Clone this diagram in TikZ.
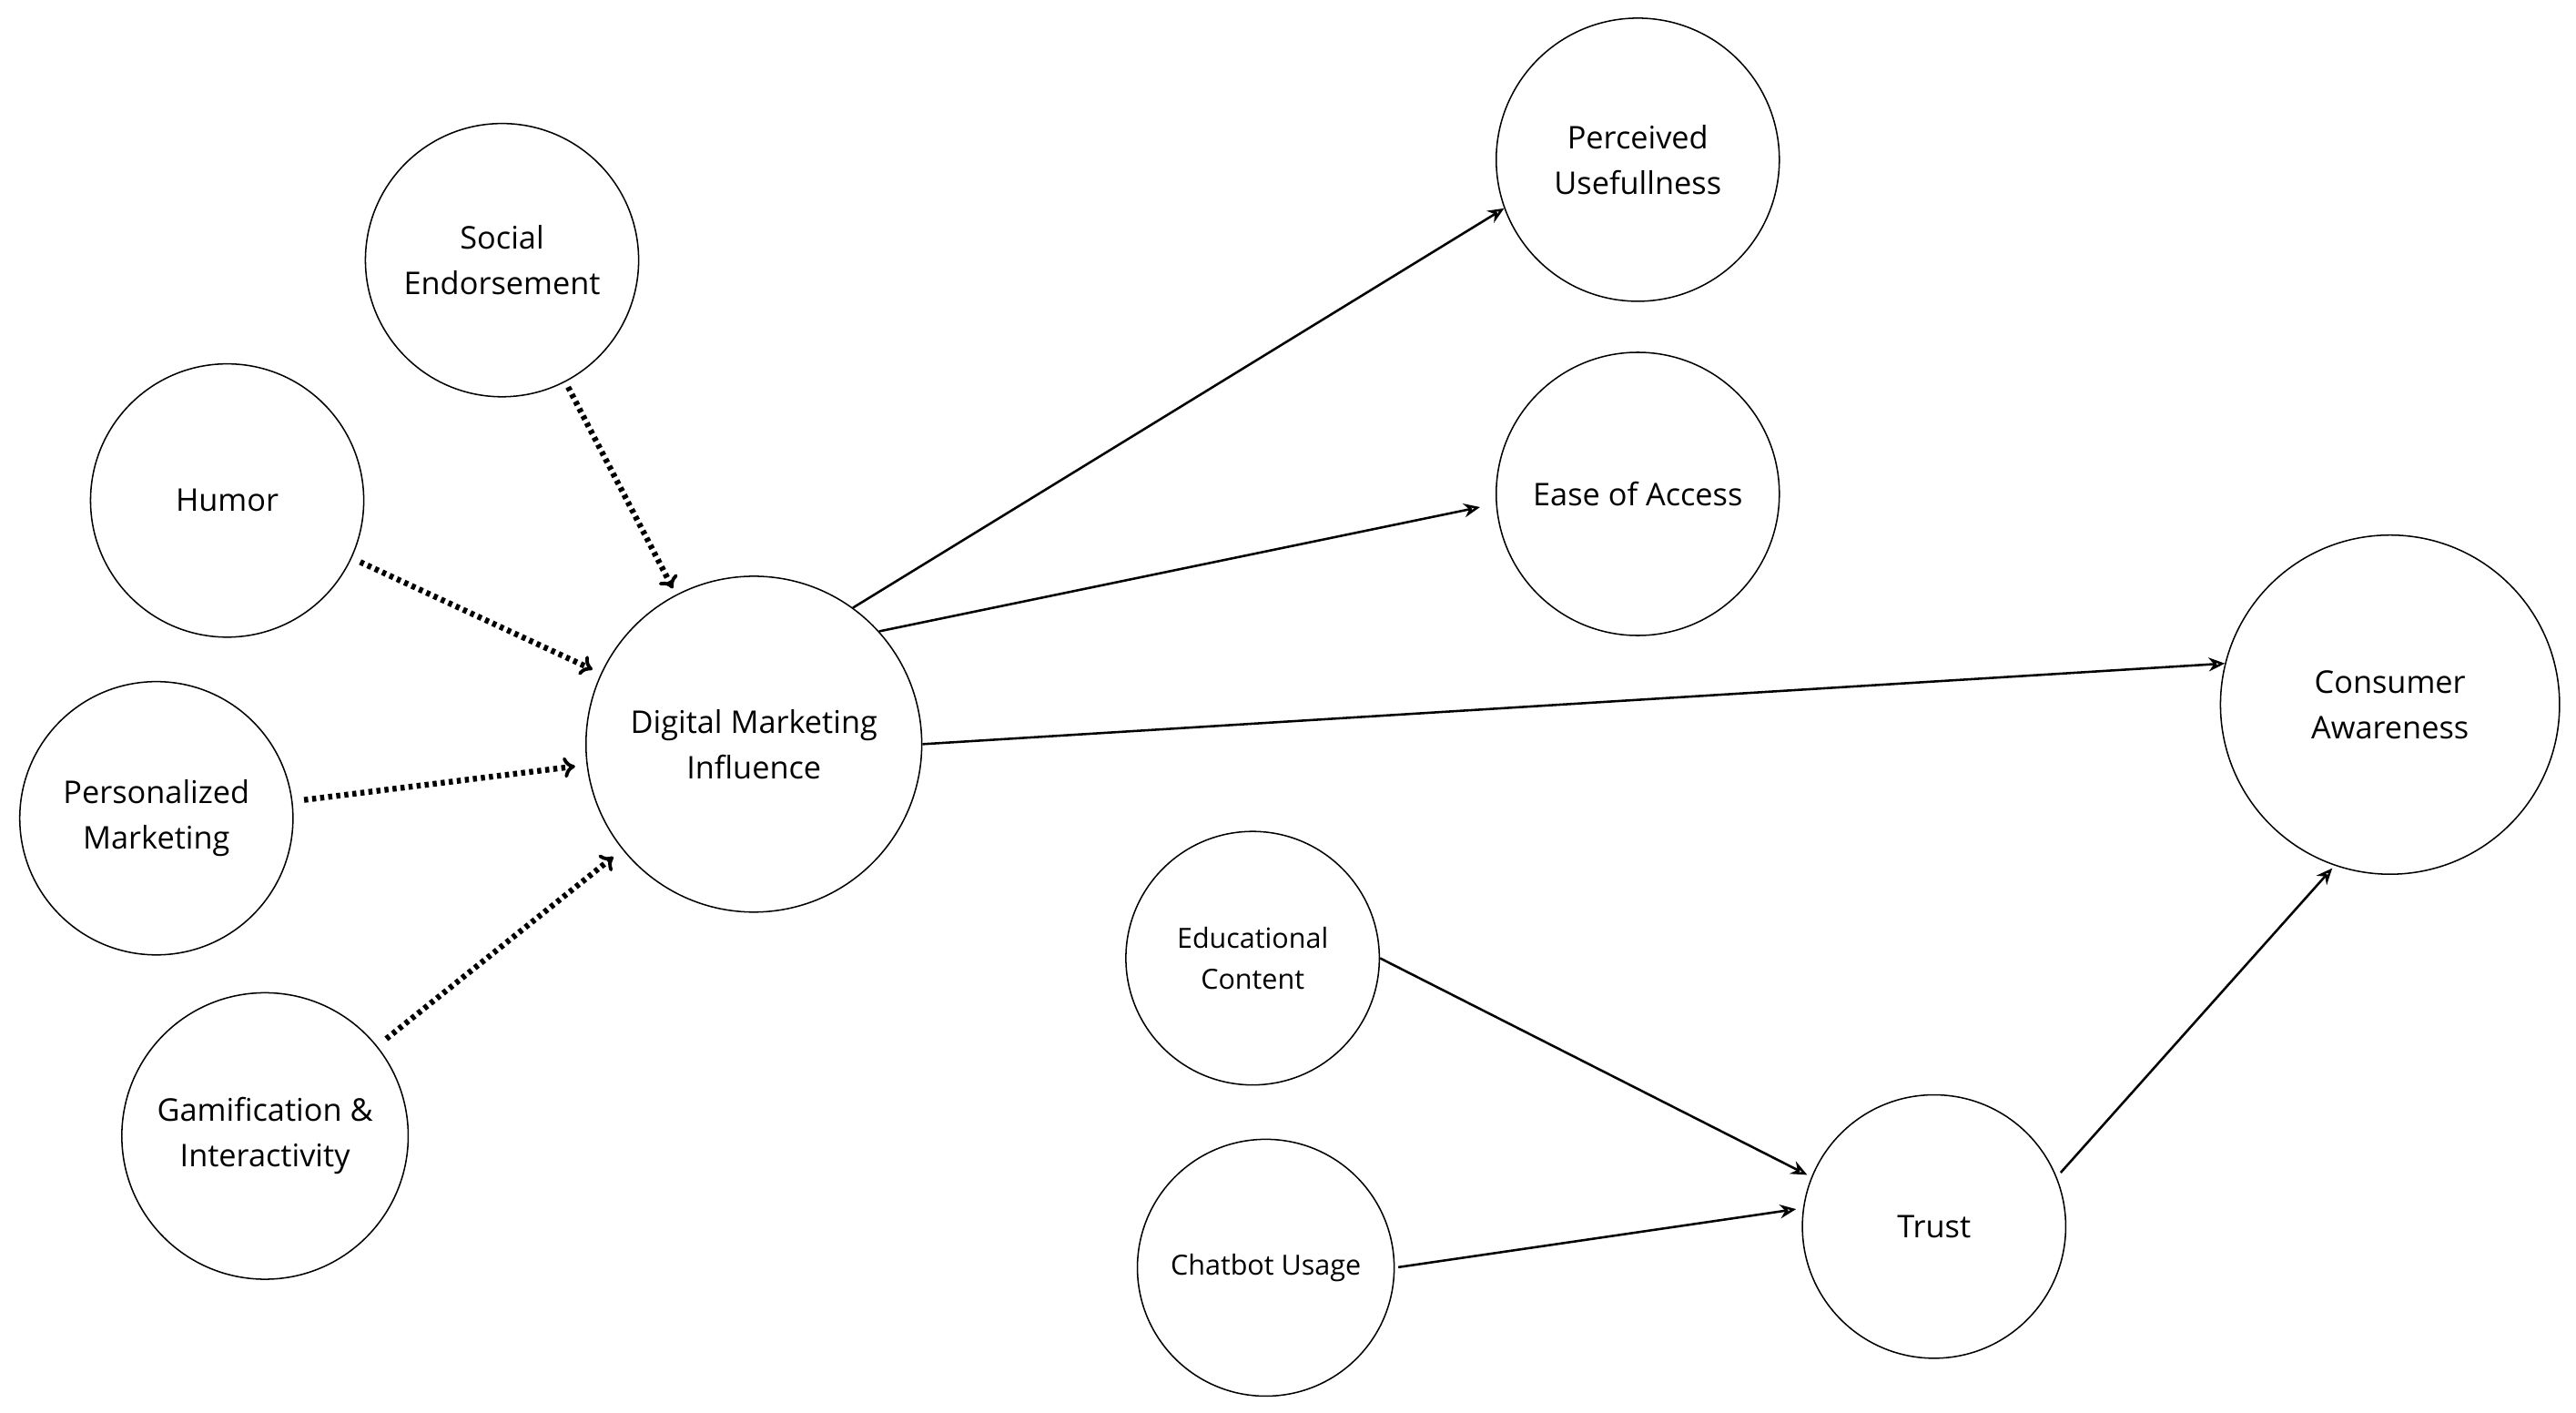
\documentclass[tikz,border=0pt]{standalone}
\usepackage{fontspec}
\setmainfont{Open Sans}
\usetikzlibrary{arrows.meta}
\begin{document}
\begin{tikzpicture}[x=0.05cm,y=-0.05cm,
  c/.style={circle,draw,line width=1.2pt,align=center,font=\fontsize{27}{39}\selectfont,inner sep=0pt},
  cs/.style={c,font=\fontsize{24}{35}\selectfont},
  sol/.style={line width=2pt,-{Stealth[open,length=14pt,width=12pt]}},
  dot/.style={line width=5pt,dash pattern=on 3.5pt off 3.5pt,-{To[length=10pt,width=18pt,line width=3pt]}}]
\useasboundingbox[fill=white] (0,0) rectangle (1565,858);
\node[c,minimum size=8.3cm] (soc) at (305,158) {Social\\Endorsement};
\node[c,minimum size=8.3cm] (hum) at (138,304) {Humor};
\node[c,minimum size=8.3cm] (per) at (95,497) {Personalized\\Marketing};
\node[c,minimum size=8.7cm] (gam) at (161,690) {Gamification \&\\Interactivity};
\node[c,minimum size=10.2cm] (dmi) at (458,452) {Digital Marketing\\Influence};
\node[c,minimum size=8.6cm] (pu) at (995,97) {Perceived\\Usefullness};
\node[c,minimum size=8.6cm] (ea) at (995,300) {Ease of Access};
\node[c,minimum size=10.3cm] (ca) at (1452,428) {Consumer\\Awareness};
\node[cs,minimum size=7.7cm] (ec) at (761,582) {Educational\\Content};
\node[cs,minimum size=7.8cm] (cb) at (769,770) {Chatbot Usage};
\node[c,minimum size=8cm] (tr) at (1175,745) {Trust};
\draw[dot,shorten <=5pt,shorten >=6pt] (soc) -- (dmi);
\draw[dot,shorten <=8pt,shorten >=8pt] (hum) -- (dmi);
\draw[dot,shorten <=10pt,shorten >=10pt] (per) -- (dmi);
\draw[dot,shorten <=10pt,shorten >=10pt] (gam) -- (dmi);
\draw[sol] (dmi.54) -- (pu.200);
\draw[sol,shorten >=14pt] (dmi.42) -- (ea.184);
\draw[sol] (dmi.0) -- (ca.166.5);
\draw[sol,shorten >=4pt] (ec.0) -- (tr.158);
\draw[sol,shorten <=3pt,shorten >=6pt] (cb.0) -- (tr.172);
\draw[sol,shorten <=5pt,shorten >=3pt] (tr.22) -- (ca.251);
\end{tikzpicture}
\end{document}
